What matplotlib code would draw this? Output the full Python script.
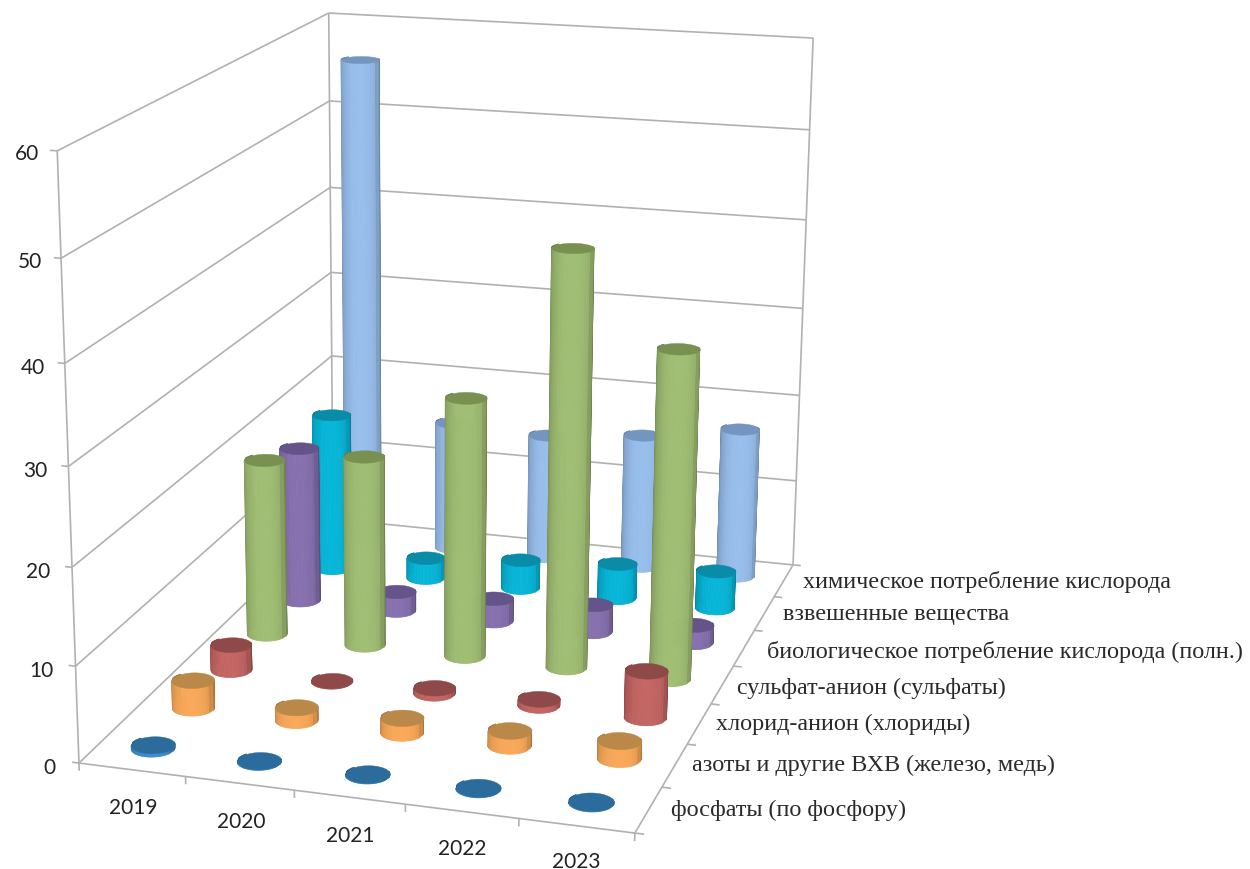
import numpy as np
import matplotlib
matplotlib.use("Agg")
import matplotlib.pyplot as plt
from matplotlib.colors import to_rgb
from mpl_toolkits.mplot3d import proj3d
from mpl_toolkits.mplot3d.art3d import Line3DCollection, Poly3DCollection

years = ["2019", "2020", "2021", "2022", "2023"]
series = ["фосфаты (по фосфору)", "азоты и другие ВХВ (железо, медь)",
          "хлорид-анион (хлориды)", "сульфат-анион (сульфаты)",
          "биологическое потребление кислорода (полн.)",
          "взвешенные вещества", "химическое потребление кислорода"]

fosfaty = [0.4, 0.1, 0.1, 0.1, 0.1]
azoty = [3.0, 1.4, 1.6, 1.6, 1.9]
hloridy = [2.8, 0.1, 0.6, 0.7, 5.0]
sulfaty = [19.5, 20.9, 28.2, 44.7, 35.2]
bpk = [17.5, 2.2, 2.6, 3.1, 2.0]
vzves = [18.1, 2.4, 3.3, 4.0, 4.3]
hpk = [56.0, 15.0, 14.5, 15.5, 17.2]
values = [fosfaty, azoty, hloridy, sulfaty, bpk, vzves, hpk]

side_colors = ["#3A86C4", "#F0A254", "#BC615F", "#9AB76F", "#816CA8", "#06AFD0", "#92B7E3"]
top_colors = ["#2C6C9C", "#BA8848", "#8E4A48", "#789150", "#64548A", "#0A8CA8", "#7395BF"]

grid_color = "#B3B0B0"
W, H = 1250, 870

# camera fitted from where the box corners should land on the canvas
box_world = np.array([(0, 0, 0), (0, 0, 60), (0, 7, 0), (0, 7, 60),
                      (5, 7, 0), (5, 7, 60), (5, 0, 0)], float)
box_canvas = np.array([(79, 764), (57, 152), (333, 520), (329, 14),
                       (793, 566), (813, 39), (635, 834)], float)


def fit_camera(world, canvas):
    rows = []
    for (x, y, z), (u, v) in zip(world, canvas):
        v = H - v
        rows.append([x, y, z, 1, 0, 0, 0, 0, -u*x, -u*y, -u*z, -u])
        rows.append([0, 0, 0, 0, x, y, z, 1, -v*x, -v*y, -v*z, -v])
    p = np.linalg.svd(np.array(rows))[2][-1].reshape(3, 4)
    p = p / p[2, 3]
    return np.array([p[0], p[1], [0, 1, 0, 0], p[2]])


M = fit_camera(box_world, box_canvas)

fig = plt.figure(figsize=(12.5, 8.7), dpi=100, facecolor="white")
ax = fig.add_axes([0, -190/870, 1, 1250/870], projection="3d", computed_zorder=False)
ax.get_proj = lambda: M
ax.set_axis_off()
ax.patch.set_alpha(0)
ax.viewLim.set_points(np.array([[0, -190], [1250, 1060]], float))

# walls, floor edges and ticks
segs = []
for z in range(0, 61, 10):
    segs.append([(0, 0, z), (0, 7, z)])
    segs.append([(0, 7, z), (5, 7, z)])
    segs.append([(0, 0, z), (-0.065, 0, z)])
segs.append([(0, 0, 0), (0, 0, 60)])
segs.append([(0, 7, 0), (0, 7, 60)])
segs.append([(5, 7, 0), (5, 7, 60)])
segs.append([(0, 0, 0), (5, 0, 0)])
segs.append([(5, 0, 0), (5, 7, 0)])
for k in range(6):
    segs.append([(k, 0, 0), (k, 0, -0.8)])
for k in range(8):
    segs.append([(5, k, 0), (5.08, k, 0)])
ax.add_collection3d(Line3DCollection(segs, colors=grid_color, linewidths=1.2, zorder=1))


def cylinder(cx, cy, h, side, top, order, rx=0.193, ry=0.195):
    # near half in strips of equal screen width, plus a little past each side
    # since the outline shifts with the view direction
    near = -np.arccos(np.linspace(-1, 1, 25))
    t = np.concatenate([np.linspace(-np.pi - 0.6, -np.pi, 5)[:-1], near, np.linspace(0, 0.6, 5)[1:]])
    X = np.array([cx + rx*np.cos(t)]*2)
    Y = np.array([cy + ry*np.sin(t)]*2)
    Z = np.array([np.zeros_like(t), np.full_like(t, h)])
    mid = (t[:-1] + t[1:])/2
    k = 0.70 + 0.34*np.clip(np.cos(mid + np.radians(75)), 0, 1)**0.6
    k = k*(1 - 0.15*np.clip(1 - np.abs(np.sin(mid))/0.3, 0, 1))
    rgb = np.clip(np.outer(k, to_rgb(side)), 0, 1)
    colors = np.dstack([rgb[:, 0], rgb[:, 1], rgb[:, 2], np.ones_like(k)])
    surf = ax.plot_surface(X, Y, Z, facecolors=colors, rstride=1, cstride=1, shade=False,
                           linewidth=0.5, antialiased=True, zorder=order)
    surf.set_snap(False)
    a = np.linspace(0, 2*np.pi, 61)
    ring = list(zip(cx + rx*np.cos(a), cy + ry*np.sin(a), np.full_like(a, h)))
    cap = Poly3DCollection([ring], facecolor=top, edgecolor=top, linewidth=0.3, zorder=order + 0.5)
    ax.add_collection3d(cap)


for i in range(len(series) - 1, -1, -1):
    for j in range(len(years)):
        cylinder(j + 0.5, i + 0.5, values[i][j], side_colors[i], top_colors[i],
                 10 + 2*(len(series) - i))


def label(x, y, z, s, dx=0, dy=0, **kw):
    # text goes on the figure at the projected spot, dx/dy in pixels
    u, v, _ = proj3d.proj_transform(x, y, z, M)
    fig.text((u + dx)/W, (v + dy)/H, s, va="center", **kw)


for z in range(0, 61, 10):
    label(-0.2, 0, z, str(z), dx=-2 + z*0.1, dy=-7 + z*0.05, ha="right", fontsize=15,
          family="Lato", color="#222222")
year_dy = [-5, -5, -5, -4, -2]
for j, y in enumerate(years):
    label(j + 0.46, 0, -3.4, y, dx=5, dy=year_dy[j], ha="center", fontsize=15,
          family="Lato", color="#222222")
nudge = [(0, 3), (-4, 3), (-4, 3), (-5, 0), (3, -1), (0, 2), (1, 1)]
for i, s in enumerate(series):
    label(5.19, i + 0.5, 0, s, dx=nudge[i][0], dy=nudge[i][1], ha="left", fontsize=17.4,
          family="Liberation Serif", color="#2A2A2A")

fig.savefig("out.png", dpi=100)
